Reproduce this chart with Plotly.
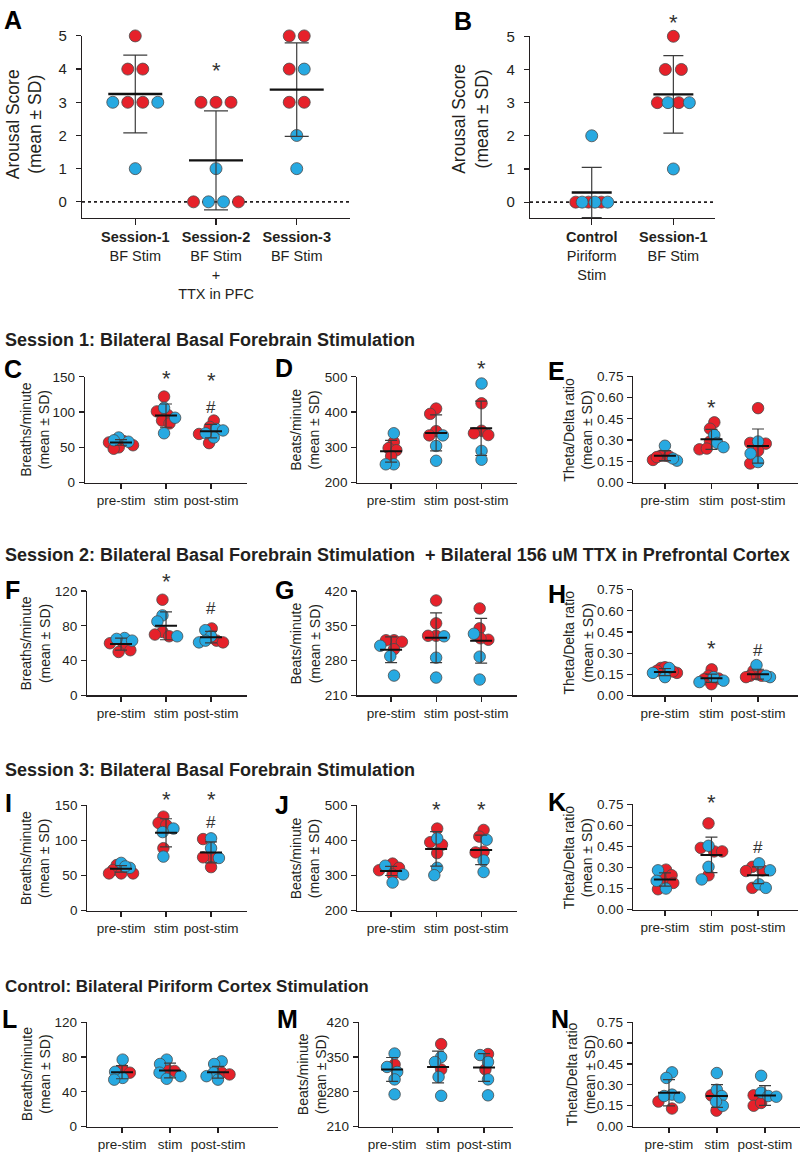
import math
import plotly.graph_objects as go

W, H = 800, 1158
FONT = "Liberation Sans, Arial, Helvetica, sans-serif"
INK = "#231F20"
RED, BLUE = "#E6212A", "#27A9E1"
EDGE = "#4A4A4A"

# ---------------- data ----------------
STIM = ["pre-stim", "stim", "post-stim"]

A_labels = ["<b>Session-1</b><br>BF Stim", "<b>Session-2</b><br>BF Stim<br>+<br>TTX in PFC", "<b>Session-3</b><br>BF Stim"]
A_values = [[5, 4, 4, 3, 3, 3, 3, 1], [3, 3, 3, 1, 0, 0, 0, 0], [5, 5, 4, 4, 3, 3, 2, 1]]
A_colors = ["rrrbrrbb", "rrrbrbbr", "rrrbrrbb"]
A_mean = [3.25, 1.25, 3.38]
A_sd = [1.17, 1.49, 1.41]
A_marks = [(1, "*", 3.82)]

B_labels = ["<b>Control</b><br>Piriform<br>Stim", "<b>Session-1</b><br>BF Stim"]
B_values = [[2, 0, 0, 0, 0, 0, 0], [5, 4, 4, 3, 3, 3, 3, 1]]
B_colors = ["brbrbrb", "rrrrbrbb"]
B_mean = [0.29, 3.25]
B_sd = [0.76, 1.17]
B_marks = [(1, "*", 5.68)]

C_values = [[64, 60, 58, 59, 57, 53, 50, 48], [122, 101, 96, 88, 84, 106, 92, 70], [88, 79, 69, 56, 76, 74, 64, 70]]
C_colors = ["bbbrrrrr", "rrrrrbbb", "rrrrbbbb"]
C_mean = [57, 95, 73]
C_sd = [4, 16.5, 9.5]
C_marks = [(1, "*", 141), (2, "*", 138), (2, "#", 106)]

D_values = [[340, 252, 252, 315, 298, 292, 275], [410, 395, 346, 334, 334, 304, 262], [481, 290, 265, 425, 347, 340, 335]]
D_colors = ["bbbrrrr", "rrrrbbb", "bbbrrrr"]
D_mean = [289, 341, 354]
D_sd = [31, 51, 77]
D_marks = [(2, "*", 511)]

E_values = [[0.26, 0.155, 0.17, 0.19, 0.19, 0.185, 0.16, 0.18],
            [0.425, 0.38, 0.29, 0.235, 0.24, 0.335, 0.28, 0.25],
            [0.525, 0.28, 0.275, 0.225, 0.135, 0.29, 0.205, 0.145]]
E_colors = ["bbbrrrrr", "rrrrrbbb", "rrrrrbbb"]
E_mean = [0.19, 0.305, 0.258]
E_sd = [0.035, 0.07, 0.12]
E_marks = [(1, "*", 0.50)]

F_values = [[66, 65, 63, 60, 57, 52, 50], [110, 73, 68, 70, 92, 85, 68], [77, 63, 61, 75, 68, 61, 63]]
F_colors = ["bbbrrrr", "rrrrbbb", "rrrbbbb"]
F_mean = [59, 80, 67]
F_sd = [7, 16, 6.6]
F_marks = [(1, "*", 126), (2, "#", 100)]

G_values = [[321, 321, 318, 303, 310, 289, 250], [401, 355, 330, 330, 329, 286, 246], [385, 345, 322, 325, 334, 288, 242]]
G_colors = ["rrrrbbb", "rrrrbbb", "rrrrbbb"]
G_mean = [302, 326, 320]
G_sd = [26, 50, 45]
G_marks = []

H_values = [[0.195, 0.20, 0.175, 0.16, 0.17, 0.195, 0.16, 0.13],
            [0.185, 0.14, 0.115, 0.08, 0.12, 0.13, 0.105, 0.095],
            [0.175, 0.15, 0.14, 0.14, 0.13, 0.215, 0.13, 0.14]]
H_colors = ["rrrrrbbb", "rrrrrbbb", "rrrrrbbb"]
H_mean = [0.166, 0.122, 0.151]
H_sd = [0.025, 0.029, 0.035]
H_marks = [(1, "*", 0.30), (2, "#", 0.32)]

I_values = [[68, 61, 63, 65, 58, 53, 53, 53], [134, 125, 122, 89, 117, 112, 77], [102, 77, 76, 62, 103, 89, 75]]
I_colors = ["bbbrrrrr", "rrrrbbb", "rrrrbbb"]
I_mean = [59.5, 111, 83]
I_sd = [4.7, 20, 15]
I_marks = [(1, "*", 152), (2, "*", 152), (2, "#", 125)]

J_values = [[334, 322, 315, 303, 328, 303, 280], [434, 395, 388, 364, 406, 322, 301], [430, 411, 368, 366, 402, 343, 310]]
J_colors = ["rrrrbbb", "rrrrbbb", "rrrrbbb"]
J_mean = [313, 376, 373]
J_sd = [13, 49, 42]
J_marks = [(1, "*", 476), (2, "*", 476)]

K_values = [[0.285, 0.225, 0.245, 0.19, 0.145, 0.28, 0.205, 0.15],
            [0.615, 0.44, 0.415, 0.415, 0.245, 0.455, 0.305, 0.215],
            [0.305, 0.275, 0.28, 0.155, 0.33, 0.28, 0.18, 0.155]]
K_colors = ["rrrrrbbb", "rrrrrbbb", "rrrrbbbb"]
K_mean = [0.215, 0.39, 0.245]
K_sd = [0.047, 0.127, 0.06]
K_marks = [(1, "*", 0.735), (2, "#", 0.445)]

L_values = [[66, 62, 77, 63, 56, 54], [66, 64, 77, 72, 62, 58, 55], [62, 60, 75, 72, 62, 58, 54]]
L_colors = ["rrbbbb", "rrbbbbb", "rrbbbbb"]
L_mean = [62.5, 64.5, 62.5]
L_sd = [7.5, 8.5, 6.7]
L_marks = []

M_values = [[335, 357, 330, 320, 305, 275], [376, 325, 350, 340, 310, 272], [356, 325, 354, 340, 305, 273]]
M_colors = ["rbbbbb", "rrbbbb", "rrbbbb"]
M_mean = [325, 330, 329]
M_sd = [24, 32, 28]
M_marks = []

N_values = [[0.18, 0.13, 0.39, 0.35, 0.23, 0.21, 0.22],
            [0.225, 0.115, 0.385, 0.265, 0.22, 0.15, 0.18],
            [0.225, 0.15, 0.17, 0.365, 0.245, 0.22, 0.215]]
N_colors = ["rrbbbbb", "rrbbbbb", "rrrbbbb"]
N_mean = [0.243, 0.22, 0.224]
N_sd = [0.094, 0.082, 0.071]
N_marks = []

HEADINGS = [
    ("Session 1: Bilateral Basal Forebrain Stimulation", 336, 18),
    ("Session 2: Bilateral Basal Forebrain Stimulation\u00a0 + Bilateral 156 uM TTX in Prefrontal Cortex", 554, 18),
    ("Session 3: Bilateral Basal Forebrain Stimulation", 772.5, 18),
    ("Control: Bilateral Piriform Cortex Stimulation", 992, 17),
]

DATA = {
    "A": (A_values, A_colors, A_mean, A_sd, A_marks, A_labels),
    "B": (B_values, B_colors, B_mean, B_sd, B_marks, B_labels),
    "C": (C_values, C_colors, C_mean, C_sd, C_marks, STIM),
    "D": (D_values, D_colors, D_mean, D_sd, D_marks, STIM),
    "E": (E_values, E_colors, E_mean, E_sd, E_marks, STIM),
    "F": (F_values, F_colors, F_mean, F_sd, F_marks, STIM),
    "G": (G_values, G_colors, G_mean, G_sd, G_marks, STIM),
    "H": (H_values, H_colors, H_mean, H_sd, H_marks, STIM),
    "I": (I_values, I_colors, I_mean, I_sd, I_marks, STIM),
    "J": (J_values, J_colors, J_mean, J_sd, J_marks, STIM),
    "K": (K_values, K_colors, K_mean, K_sd, K_marks, STIM),
    "L": (L_values, L_colors, L_mean, L_sd, L_marks, STIM),
    "M": (M_values, M_colors, M_mean, M_sd, M_marks, STIM),
    "N": (N_values, N_colors, N_mean, N_sd, N_marks, STIM),
}

# ---------------- layout / style (pixels) ----------------
BR = "Breaths/minute<br>(mean ± SD)"
BE = "Beats/minute<br>(mean ± SD)"
TD = "Theta/Delta ratio<br>(mean ± SD)"
R075 = [0, 0.15, 0.30, 0.45, 0.60, 0.75]


def G(box, xr, yr, ytv, title, tpos, letter, fmt=None, big=False):
    return dict(box=box, xr=xr, yr=yr, ytv=ytv, title=title, tpos=tpos, letter=letter, fmt=fmt, big=big)


GEOM = {
    "A": G((82, 350, 27.3, 211.7), (-0.66, 2.66), (-0.475, 5), [0, 1, 2, 3, 4, 5],
           "Arousal Score<br>(mean ± SD)", (24, 117), (2, 11.5), big=True),
    "B": G((530, 715, 27.7, 212), (-0.756, 1.51), (-0.475, 5), [0, 1, 2, 3, 4, 5],
           "Arousal Score<br>(mean ± SD)", (470.5, 112), (452, 12.5), big=True),
    "C": G((85, 247, 373.3, 480.7), (-0.8, 2.8), (0, 150), [0, 50, 100, 150], BR, (35, 427), (2, 365)),
    "D": G((357.3, 516.7, 373.3, 480.7), (-0.75, 2.79), (200, 500), [200, 300, 400, 500], BE, (305, 427), (273, 364)),
    "E": G((633.3, 798, 372.7, 480.7), (-0.68, 2.86), (0, 0.75), R075, TD, (578, 427), (546, 367.5), fmt=".2f"),
    "F": G((87.3, 247, 590.7, 696.7), (-0.75, 2.8), (0, 120), [0, 40, 80, 120], BR, (35, 644), (3, 590)),
    "G": G((357.3, 516.7, 590.7, 696.7), (-0.75, 2.79), (210, 420), [210, 280, 350, 420], BE, (305, 644), (273, 590)),
    "H": G((633.3, 798, 589.3, 696.7), (-0.68, 2.86), (0, 0.75), R075, TD, (578, 643), (546, 594), fmt=".2f"),
    "I": G((87.3, 247, 808.3, 915), (-0.75, 2.8), (0, 150), [0, 50, 100, 150], BR, (35, 862), (3, 806)),
    "J": G((357.3, 516.7, 808.3, 915), (-0.75, 2.79), (200, 500), [200, 300, 400, 500], BE, (305, 862), (273, 807.5)),
    "K": G((633.3, 798, 807.3, 914), (-0.68, 2.86), (0, 0.75), R075, TD, (578, 861), (546, 805), fmt=".2f"),
    "L": G((87, 278, 1028.3, 1134.3), (-0.73, 3.25), (0, 120), [0, 40, 80, 120], BR, (36, 1081), (0, 1025)),
    "M": G((359, 513, 1028.3, 1134.3), (-0.72, 2.63), (210, 420), [210, 280, 350, 420], BE, (312, 1081), (275, 1025)),
    "N": G((633, 800, 1028.3, 1134.3), (-0.75, 2.73), (0, 0.75), R075, TD, (581, 1081), (549, 1025), fmt=".2f"),
}


def row_offsets(vals, spacing, maxw):
    """Centre points sharing the same value in a horizontal row (Prism style)."""
    out = [0.0] * len(vals)
    seen = {}
    for i, v in enumerate(vals):
        seen.setdefault(v, []).append(i)
    for v, idxs in seen.items():
        m = len(idxs)
        sp = spacing if m < 2 else min(spacing, maxw / (m - 1))
        for j, i in enumerate(idxs):
            out[i] = (j - (m - 1) / 2) * sp
    return out


def swarm(ys, diam, maxhalf):
    """Beeswarm: horizontal pixel offsets, then squeezed to fit the column."""
    n = len(ys)
    xs = [0.0] * n
    placed = []
    for i in sorted(range(n), key=lambda k: -ys[k]):
        y = ys[i]
        cands = [0.0]
        for px_, py_ in placed:
            dy = abs(y - py_)
            if dy < diam:
                dx = math.sqrt(diam * diam - dy * dy)
                cands += [px_ - dx, px_ + dx]
        cands.sort(key=lambda c: (round(abs(c), 6), c))
        for c in cands:
            if all((c - a) ** 2 + (y - b) ** 2 >= diam * diam - 1e-6 for a, b in placed):
                xs[i] = c
                placed.append((c, y))
                break
    lo, hi = min(xs), max(xs)
    mid = (lo + hi) / 2
    xs = [x - mid for x in xs]
    widest = max(abs(x) for x in xs)
    if widest > maxhalf:
        xs = [x * maxhalf / widest for x in xs]
    return xs


fig = go.Figure()
annotations = []
shapes = []
axes = {}

for idx, key in enumerate("ABCDEFGHIJKLMN", start=1):
    values, colors, mean, sd, marks, labels = DATA[key]
    g = GEOM[key]
    x0, x1, yt, yb = g["box"]
    xr, yr = g["xr"], g["yr"]
    pxx = (x1 - x0) / (xr[1] - xr[0])
    pxy = (yb - yt) / (yr[1] - yr[0])
    sfx = "" if idx == 1 else str(idx)
    xa, ya = "x" + sfx, "y" + sfx
    big = g["big"]
    dot = 12 if big else 11.5
    half = (27 if key == "A" else 20) if big else 11
    cap = (12 if key == "A" else 10) if big else 6

    pts = {"r": ([], []), "b": ([], [])}
    for gi, (vals, cols) in enumerate(zip(values, colors)):
        if big:
            offs = row_offsets(vals, 15 if key == "A" else 16, 48 if key == "A" else 32)
        else:
            offs = swarm([v * pxy for v in vals], 8, 12)
        for v, c, o in zip(vals, cols, offs):
            pts[c][0].append(gi + o / pxx)
            pts[c][1].append(v)

    for c, colr in (("r", RED), ("b", BLUE)):
        fig.add_trace(go.Scatter(
            x=pts[c][0], y=pts[c][1], mode="markers", xaxis=xa, yaxis=ya,
            marker=dict(size=dot, color=colr, line=dict(color=EDGE, width=0.8)),
            cliponaxis=False, showlegend=False, hoverinfo="skip"))

    ng = len(values)
    fig.add_trace(go.Scatter(
        x=list(range(ng)), y=mean, mode="markers", xaxis=xa, yaxis=ya,
        marker=dict(size=1, color="rgba(0,0,0,0)"),
        error_y=dict(type="data", array=sd, visible=True, color="#3C3C3C",
                     thickness=1.2, width=cap),
        cliponaxis=False, showlegend=False, hoverinfo="skip"))

    mx, my = [], []
    for gi, m in enumerate(mean):
        mx += [gi - half / pxx, gi + half / pxx, None]
        my += [m, m, None]
    fig.add_trace(go.Scatter(
        x=mx, y=my, mode="lines", xaxis=xa, yaxis=ya,
        line=dict(color="#111111", width=2.4 if big else 2),
        cliponaxis=False, showlegend=False, hoverinfo="skip"))

    axes["xaxis" + sfx] = dict(
        domain=[x0 / W, x1 / W], range=list(xr), anchor=ya,
        tickvals=list(range(ng)), ticktext=labels,
        showline=True, linecolor=INK, linewidth=1.2, ticks="outside",
        ticklen=6 if big else 5, tickwidth=1.2, tickcolor=INK,
        tickfont=dict(size=14.5 if big else 13.5, color=INK, family=FONT),
        showgrid=False, zeroline=False, fixedrange=True)
    axes["yaxis" + sfx] = dict(
        domain=[1 - yb / H, 1 - yt / H], range=list(yr), anchor=xa,
        tickvals=g["ytv"], tickformat=g["fmt"],
        showline=True, linecolor=INK, linewidth=1.2, ticks="outside",
        ticklen=5, tickwidth=1.2, tickcolor=INK,
        ticklabelstandoff=6 if big else 1,
        tickfont=dict(size=15 if big else 13.5, color=INK, family=FONT),
        showgrid=False, zeroline=False, fixedrange=True)

    if big:
        shapes.append(dict(type="line", xref=xa + " domain", yref=ya, x0=0, x1=1, y0=0, y1=0,
                           line=dict(color=INK, width=1.6, dash="dot"), layer="below"))

    # significance marks, mapped through the axis scale into paper space
    for gi, sym, val in marks:
        fs = 22 if sym == "*" else 17
        shift = 4.5 if sym == "*" else 0
        xpx = x0 + (gi - xr[0]) * pxx
        ypx = yb - (val - yr[0]) * pxy - shift
        ypx = max(ypx, 0.62 * fs)          # keep the text box inside the page
        annotations.append(dict(
            x=xpx / W, y=1 - ypx / H, xref="paper", yref="paper", text=sym, showarrow=False,
            xanchor="center", yanchor="middle",
            font=dict(size=fs, color="#333333", family=FONT)))

    tx, ty = g["tpos"]
    annotations.append(dict(
        x=tx / W, y=1 - ty / H, xref="paper", yref="paper", text=g["title"],
        textangle=-90, showarrow=False, xanchor="center", yanchor="middle",
        font=dict(size=17.5 if big else 14, color=INK, family=FONT)))

    lx, ly = g["letter"]
    annotations.append(dict(
        x=lx / W, y=1 - ly / H, xref="paper", yref="paper", text="<b>%s</b>" % key,
        showarrow=False, xanchor="left", yanchor="middle",
        font=dict(size=25, color="#000000", family=FONT)))

for text, yy, fs in HEADINGS:
    annotations.append(dict(
        x=3 / W, y=1 - yy / H, xref="paper", yref="paper", text="<b>%s</b>" % text,
        showarrow=False, xanchor="left", yanchor="middle",
        font=dict(size=fs, color=INK, family=FONT)))

fig.update_layout(
    width=W, height=H, autosize=False,
    margin=dict(l=0, r=0, t=0, b=0),
    paper_bgcolor="white", plot_bgcolor="white",
    font=dict(family=FONT, color=INK),
    showlegend=False, annotations=annotations, shapes=shapes, **axes)

fig.write_html(
    "out.html",
    config={"displayModeBar": False, "staticPlot": True},
    post_script="document.body.style.margin='0px';document.body.style.padding='0px';"
                "document.documentElement.style.overflow='hidden';")
